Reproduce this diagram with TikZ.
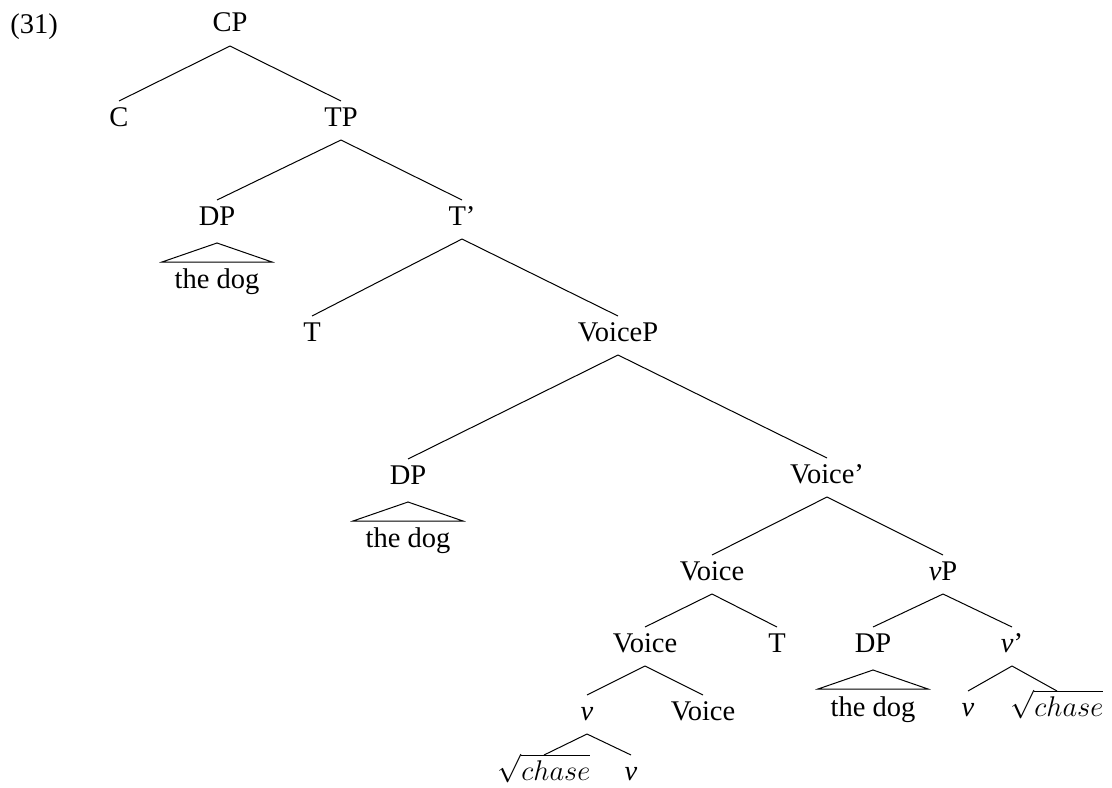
\documentclass[tikz,border=0pt]{standalone}
\usepackage{fix-cm}
\usepackage{fontspec}
\setmainfont{Liberation Serif}
\usetikzlibrary{calc}
\begin{document}
\begin{tikzpicture}[x=0.5pt,y=-0.5pt,
  lbl/.style={inner sep=0pt,anchor=base,font=\fontsize{14.25pt}{17pt}\selectfont},
  branch/.style={line width=0.5pt},
  roof/.style={line width=0.5pt,line join=miter}]
\useasboundingbox (0,0) rectangle (1112,787);

% example number
\node[lbl,anchor=base west] (ex) at (10,33) {(31)};

% node labels (x = centre, y = baseline)
\node[lbl] (CP)     at (230,32)  {CP};
\node[lbl] (C)      at (119,126) {C};
\node[lbl] (TP)     at (341,126) {TP};
\node[lbl] (DPa)    at (217,225) {DP};
\node[lbl] (doga)   at (217,288) {the dog};
\node[lbl] (Tbar)   at (462,225) {T'};
\node[lbl] (T)      at (312,341) {T};
\node[lbl] (VoiceP) at (618,341) {VoiceP};
\node[lbl] (DPb)    at (408,484) {DP};
\node[lbl] (dogb)   at (408,547) {the dog};
\node[lbl] (Vbar)   at (827,483) {Voice'};
\node[lbl] (Va)     at (712,580) {Voice};
\node[lbl] (vP)     at (943,580) {\textit{v}P};
\node[lbl] (Vb)     at (645,652) {Voice};
\node[lbl] (Tb)     at (777,652) {T};
\node[lbl] (DPc)    at (873,652) {DP};
\node[lbl] (dogc)   at (873,716) {the dog};
\node[lbl] (vbar)   at (1012,652) {\textit{v}'};
\node[lbl] (va)     at (587,720) {\textit{v}};
\node[lbl] (Vc)     at (703,720) {Voice};
\node[lbl] (vb)     at (968,716) {\textit{v}};
\node[lbl] (rtb)    at (1057,716) {$\sqrt{chase}$};
\node[lbl] (rta)    at (544,780) {$\sqrt{chase}$};
\node[lbl] (vc)     at (631,780) {\textit{v}};

% branches: parent bottom to child top
\foreach \p/\c in {CP/C,CP/TP,TP/DPa,TP/Tbar,Tbar/T,Tbar/VoiceP,
                   VoiceP/DPb,VoiceP/Vbar,Vbar/Va,Vbar/vP,Va/Vb,Va/Tb,
                   vP/DPc,vP/vbar,Vb/va,Vb/Vc,vbar/vb,vbar/rtb,va/rta,va/vc}
  \draw[branch] ($(\p.base)+(0,14)$) -- ($(\c.base)+(0,-25)$);

% roofs over unanalysed phrases
\foreach \d in {DPa,DPb,DPc}
  \draw[roof] ($(\d.base)+(0,18)$) -- ($(\d.base)+(55,37)$)
              -- ($(\d.base)+(-55,37)$) -- cycle;
\end{tikzpicture}
\end{document}
